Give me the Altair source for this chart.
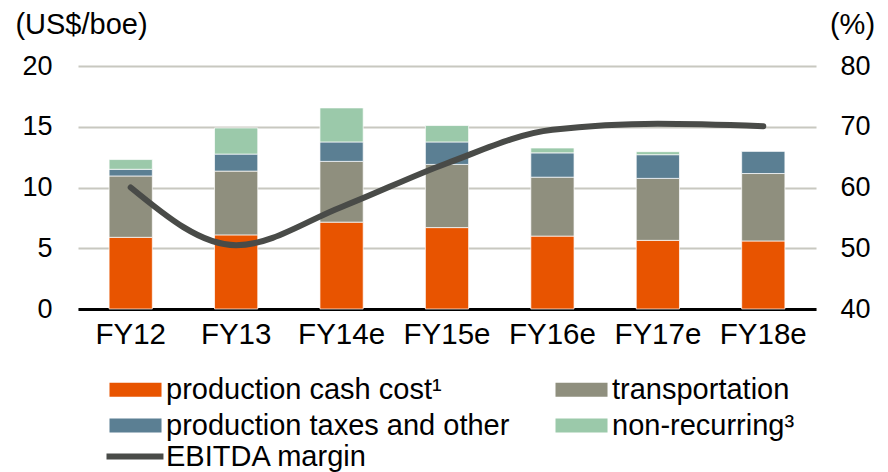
import altair as alt
import pandas as pd

years = ["FY12", "FY13", "FY14e", "FY15e", "FY16e", "FY17e", "FY18e"]
series = ["production cash cost¹", "transportation", "production taxes and other", "non-recurring³"]
production = [5.9, 6.1, 7.15, 6.7, 6.0, 5.65, 5.6]
transport = [5.05, 5.25, 5.0, 5.2, 4.85, 5.1, 5.55]
taxes = [0.55, 1.4, 1.6, 1.85, 2.0, 1.95, 1.85]
nonrec = [0.8, 2.15, 2.8, 1.35, 0.4, 0.25, 0.0]
margin = [60.0, 50.5, 56.8, 64.0, 69.5, 70.5, 70.1]
colors = ["#e85400", "#8f8f7e", "#5b7f93", "#9bc9aa"]
line_color = "#494b48"
FONT = "Liberation Sans"

# legend fills column-wise: order so that rows read production/transport, taxes/non-recurring
legend_order = [series[0], series[2], series[1], series[3]]
legend_colors = [colors[0], colors[2], colors[1], colors[3]]

rows = []
for i, yr in enumerate(years):
    for j, (s, vals) in enumerate(zip(series, [production, transport, taxes, nonrec])):
        rows.append({"year": yr, "series": s, "order": j, "value": vals[i]})
bars_df = pd.DataFrame(rows)
line_df = pd.DataFrame({"year": years, "margin": margin, "label": ["EBITDA margin"] * len(years)})

x_enc = alt.X(
    "year:N", sort=years,
    scale=alt.Scale(paddingInner=0.59, paddingOuter=0.295),
    axis=alt.Axis(title=None, labelAngle=0, labelFontSize=29.5, labelColor="black",
                  labelPadding=11, domainColor="black", domainWidth=3, ticks=False, grid=False),
)

bars = alt.Chart(bars_df).mark_bar(stroke="white", strokeWidth=1, strokeOpacity=0.7).encode(
    x=x_enc,
    y=alt.Y("value:Q", stack="zero",
            scale=alt.Scale(domain=[0, 20], nice=False),
            axis=alt.Axis(values=[0, 5, 10, 15, 20], title="(US$/boe)", titleAngle=0,
                          titleX=3, titleY=-42, titleAlign="center", titleBaseline="middle",
                          titleFontSize=29, titleFontWeight="normal", titleColor="black",
                          labelFontSize=27, labelColor="black", labelPadding=26,
                          domain=False, ticks=False, gridColor="#c8c8c0", gridWidth=2)),
    color=alt.Color("series:N", scale=alt.Scale(domain=legend_order, range=legend_colors),
                    legend=alt.Legend(orient="none", legendX=17, legendY=309, columns=2,
                                      padding=0, title=None, labelFontSize=29, labelColor="black",
                                      labelLimit=0,
                                      symbolType="M0,-0.78L5.78,-0.78L5.78,0.78L0,0.78Z",
                                      symbolSize=324,
                                      symbolStrokeWidth=0, labelOffset=42,
                                      columnPadding=31, rowPadding=6)),
    order=alt.Order("order:Q"),
)

line = alt.Chart(line_df).mark_line(interpolate="monotone", strokeWidth=6, strokeCap="round").encode(
    x=alt.X("year:N", sort=years),
    y=alt.Y("margin:Q", scale=alt.Scale(domain=[40, 80], nice=False),
            axis=alt.Axis(orient="right", values=[40, 50, 60, 70, 80], title="(%)", titleAngle=0,
                          titleX=36, titleY=-42, titleAlign="center", titleBaseline="middle",
                          titleFontSize=29, titleFontWeight="normal", titleColor="black",
                          labelFontSize=27, labelColor="black", labelPadding=24,
                          domain=False, ticks=False, grid=False)),
    stroke=alt.Stroke("label:N", scale=alt.Scale(range=[line_color]),
                      legend=alt.Legend(orient="none", legendX=14, legendY=376, title=None,
                                        padding=0, labelFontSize=29, labelColor="black",
                                        labelLimit=0,
                                        symbolType="M0,0L6.33,0", symbolSize=324,
                                        symbolStrokeWidth=6, labelOffset=45)),
)

chart = alt.layer(bars, line).resolve_scale(y="independent").properties(
    width=738, height=243,
    padding={"left": 70, "top": 58, "right": 64, "bottom": 166},
    autosize=alt.AutoSizeParams(type="none"),
).configure(font=FONT).configure_view(stroke=None)

chart.save("out.html", embed_options={"renderer": "svg", "actions": False})
